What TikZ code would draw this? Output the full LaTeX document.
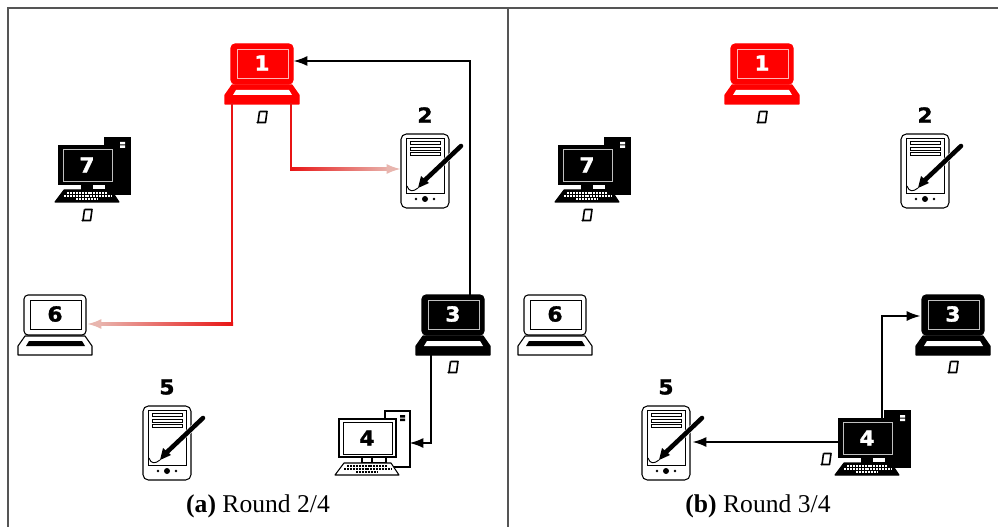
\documentclass[tikz,border=0pt]{standalone}
\usepackage{fontspec}
\setmainfont{Liberation Serif}
\newfontfamily\numfont[FakeBold=1.6,FakeStretch=1.05]{DejaVu Sans Bold}
\usetikzlibrary{arrows.meta,positioning,calc}
\definecolor{framegray}{HTML}{555555}
\definecolor{fadepink}{HTML}{E8B5AE}
\definecolor{linered}{HTML}{E81414}
\definecolor{edgepink}{HTML}{FFB4B4}
\definecolor{edgegray}{HTML}{C0C0C0}
\tikzset{
  devlap/.style={inner sep=0pt,minimum width=46.5pt,minimum height=45pt},
  devpc/.style={inner sep=0pt,minimum width=52.5pt,minimum height=48pt},
  devpad/.style={inner sep=0pt,minimum width=36pt,minimum height=55.5pt},
  devnum/.style={inner sep=0pt,font=\numfont\fontsize{15.5}{15.5}\selectfont},
  capt/.style={inner sep=0pt,font=\fontsize{19.2}{22}\selectfont},
  link/.style={line width=1.7pt,-{Latex[length=10.5pt,width=7.5pt]}},
  linkfade/.style={line width=1.7pt,fadepink,-{Latex[length=10.5pt,width=7.5pt]}},
  pics/laptop/.style n args={4}{code={
    \draw[fill=#1,draw=#2,line width=.8pt,rounded corners=3pt] (-31,10)--(-31,-30)--(31,-30)--(31,10)--cycle;
    \draw[fill=#1,draw=#3,line width=.5pt] (-25,-25) rectangle (26,4);
    \draw[fill=#1,draw=#2,line width=.8pt,line join=round] (-30,11)--(30,11)--(37,21)--(37,30)--(-37,30)--(-37,21)--cycle;
    \fill[#4] (-26,16)--(27,16)--(30,21)--(-29,21)--cycle;
  }},
  pics/desktop/.style n args={4}{code={
    \draw[fill=#1,draw=#2,line width=.8pt] (11,-32) rectangle (36,24);
    \fill[#4] (26,-28) rectangle (31,-25.5) (26,-24.5) rectangle (31,-22);
    \draw[fill=#1,draw=#2,line width=.8pt] (-35,-24) rectangle (22,14);
    \draw[fill=#1,draw=#3,line width=.5pt] (-31,-21) rectangle (18,11);
    \draw[fill=#1,draw=#2,line width=.8pt] (-12,14) rectangle (-2,20);
    \draw[fill=white,draw=#2,line width=.8pt] (-2,14) rectangle (12,20);
    \draw[fill=#1,draw=#2,line width=.8pt,line join=round] (-30,20)--(17,20)--(25,32)--(-39,32)--cycle;
    \foreach \k/\a/\b in {23/-27/14,26/-30/17,29/-18/4}
      \draw[#4,line width=1.6pt,dash pattern=on 1.5pt off .7pt] (\a,\k)--(\b,\k);
  }},
  pics/tablet/.style={code={
    \draw[fill=white,line width=.8pt,rounded corners=4pt] (-24,-37) rectangle (24,37);
    \draw[line width=.4pt] (-19,-33) rectangle (19,22);
    \foreach \k in {-28,-22.5,-17}
      \draw[fill=white,line width=.5pt] (-15,\k-1.5) rectangle (15,\k+1.5);
    \draw[white,line width=4.2pt] (36,-25)--(-1,10);
    \draw[line width=3.4pt,line cap=round] (36,-25)--(-1,10);
    \fill (-4,5)--(4,12)--(-7,17)--cycle;
    \draw[line width=.7pt] (-7,17) .. controls (-12,21) and (-16,21) .. (-18,15);
    \fill (0,28) circle (3) (-9,28) circle (1.4) (9,28) circle (1.4);
  }},
  pics/scroll/.style={code={
    \draw[line width=1.2pt,line join=round] (-2.5,-5.5)--(5,-5.5)--(3.5,5.5)--(-4,5.5) (-2.5,-5.5)--(-4,5.5);
    \fill (-4.5,5.5) circle (1.2);
  }}
}
\begin{document}
\begin{tikzpicture}[x=.75pt,y=-.75pt]
\useasboundingbox (0,0) rectangle (998,527);
\draw[framegray,line width=1pt] (8,527)--(8,8)--(998,8);
\draw[framegray,line width=1pt] (508,8)--(508,527);
\foreach \name/\xx/\yy/\id/\bg/\ed/\sc/\sl/\tx in {a1/262/74/1/red/red/edgepink/white/white,b1/762/74/1/red/red/edgepink/white/white,a3/453/325/3/black/black/edgegray/white/white,b3/953/325/3/black/black/edgegray/white/white,a6/55/325/6/white/black/black/black/black,b6/555/325/6/white/black/black/black/black}{
\node[devlap] (\name) at (\xx,\yy) {};
\pic at (\name) {laptop={\bg}{\ed}{\sc}{\sl}};
\node[devnum,text=\tx] (\name num) at ($(\name)+(0,-11)$) {\id};}
\foreach \name/\xx/\yy/\id/\bg/\ed/\sc/\sl/\tx in {a7/94/170/7/black/black/edgegray/white/white,b7/594/170/7/black/black/edgegray/white/white,a4/374/443/4/white/black/black/black/black,b4/874/443/4/black/black/edgegray/white/white}{
\node[devpc] (\name) at (\xx,\yy) {};
\pic at (\name) {desktop={\bg}{\ed}{\sc}{\sl}};
\node[devnum,text=\tx] (\name num) at ($(\name)+(-7,-5)$) {\id};}
\foreach \name/\xx/\yy/\id in {a2/425/171/2,b2/925/171/2,a5/167/443/5,b5/666/443/5}{
\node[devpad] (\name) at (\xx,\yy) {};
\pic at (\name) {tablet};
\node[devnum] (\name num) at ($(\name)+(0,-56)$) {\id};}
% scrolls under the holders
\foreach \xx/\yy in {262/117,762/117,87/215,587/215,453/367,953/367,826/459}
\pic at (\xx,\yy) {scroll};
% round 2/4
\draw[link] ($(a3.north)+(17,0)$) |- ($(a1.east)+(0,-13)$);
\draw[link] ($(a3.south)+(-22,0)$) |- (a4.east);
\coordinate (bend2) at ($(a1.south)+(29,0)$);
\coordinate (bend6) at ($(a1.south)+(-30,0)$);
\draw[linered,line width=1.7pt,line cap=rect] (bend2)--(bend2 |- 0,169);
\draw[linered,line width=1.7pt,line cap=rect] (bend6)--(bend6 |- 0,324);
\shade[left color=linered,right color=fadepink] ($(bend2 |- 0,169)+(-1,-1.1)$) rectangle (390,170.1);
\shade[left color=fadepink,right color=linered] (98,322.9) rectangle ($(bend6 |- 0,324)+(1,1.1)$);
\draw[linkfade] (388,169)--($(a2.west)+(0,-2)$);
\draw[linkfade] (100,324)--($(a6.east)+(1,-1)$);
% round 3/4
\draw[link] ($(b4.north)+(8,9)$) |- ($(b3.west)+(-1,-9)$);
\draw[link] ($(b4.west)+(-1,-1)$)--($(b5.east)+(2,-1)$);
\node[capt] (capa) at (258,506) {\textbf{(a)} Round 2/4};
\node[capt] (capb) at (758,506) {\textbf{(b)} Round 3/4};
\end{tikzpicture}
\end{document}
